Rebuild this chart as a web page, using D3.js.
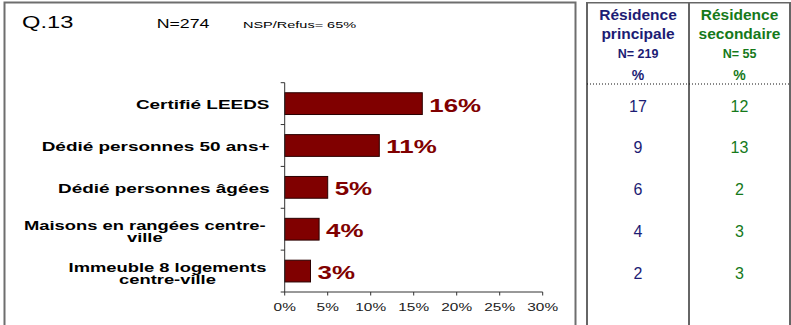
<!DOCTYPE html>
<html>
<head>
<meta charset="utf-8">
<script src="https://cdn.jsdelivr.net/npm/d3@7"></script>
<style>
  html, body { margin: 0; padding: 0; background: #fff; }
  svg { display: block; font-family: Arial, "Liberation Sans", sans-serif; }
</style>
</head>
<body>
<svg id="chart" width="791" height="325"></svg>
<script>
// Question Q.13 — preferred housing type (overall, then by residence type)
const categories = [
  ["Certifié LEEDS"],
  ["Dédié personnes 50 ans+"],
  ["Dédié personnes âgées"],
  ["Maisons en rangées centre-", "ville"],
  ["Immeuble 8 logements", "centre-ville"]
];
const totalValues = [16, 11, 5, 4, 3];          // % of all respondents
const principaleValues = [17, 9, 6, 4, 2];      // % résidence principale
const secondaireValues = [12, 13, 2, 3, 3];     // % résidence secondaire
const xTicks = [0, 5, 10, 15, 20, 25, 30];

const titleText = "Q.13";
const nText = "N=274";
const nspText = "NSP/Refus= 65%";
const colHeaders = [
  { lines: ["Résidence", "principale"], n: "N= 219", color: "#1c1c74" },
  { lines: ["Résidence", "secondaire"], n: "N= 55", color: "#15791a" }
];

const svg = d3.select("#chart");
const SX = 1.48;            // horizontal stretch of the left panel lettering
const barColor = "#800000";

// ---- left panel frame
svg.append("rect")
  .attr("x", 4.5).attr("y", 2.5).attr("width", 571).attr("height", 340)
  .attr("fill", "none").attr("stroke", "#6e6e6e").attr("stroke-width", 2);

function stretchedText(g, x, y, txt, opts) {
  return g.append("text")
    .attr("transform", `translate(${x},${y}) scale(${opts.sx || SX},1)`)
    .attr("text-anchor", opts.anchor || "start")
    .attr("font-size", opts.size)
    .attr("font-weight", opts.weight || "normal")
    .attr("fill", opts.fill || "#000")
    .text(txt);
}

stretchedText(svg, 22, 27.7, titleText, { size: 16 });
stretchedText(svg, 156.7, 27.7, nText, { size: 12 });
stretchedText(svg, 243, 28.3, nspText, { size: 9.8 });

// ---- bar chart
const x = d3.scaleLinear().domain([0, 30]).range([284.7, 542.7]);
const y = d3.scaleBand().domain(d3.range(categories.length)).range([82.7, 292]).paddingInner(0.48).paddingOuter(0.24);
const band = d3.scaleBand().domain(d3.range(categories.length)).range([82.7, 292]);

const plot = svg.append("g");

plot.selectAll("rect.bar").data(totalValues).join("rect")
  .attr("class", "bar")
  .attr("x", x(0))
  .attr("y", (d, i) => y(i))
  .attr("width", d => x(d) - x(0))
  .attr("height", y.bandwidth())
  .attr("fill", barColor)
  .attr("stroke", "#2a0000").attr("stroke-width", 1);

// value labels next to the bars
totalValues.forEach((d, i) => {
  stretchedText(plot, x(d) + 7, band(i) + band.bandwidth() / 2 + 8, d + "%",
    { size: 17.5, weight: "bold", fill: barColor });
});

// category axis (ticks on band boundaries)
const axisColor = "#333";
plot.append("line")
  .attr("x1", x(0)).attr("x2", x(0)).attr("y1", 82.7).attr("y2", 292)
  .attr("stroke", axisColor).attr("stroke-width", 1);
const boundaries = d3.range(categories.length + 1).map(i => 82.7 + i * band.step());
plot.selectAll("line.ytick").data(boundaries).join("line")
  .attr("class", "ytick")
  .attr("x1", x(0) - 4).attr("x2", x(0))
  .attr("y1", d => d).attr("y2", d => d)
  .attr("stroke", axisColor);

categories.forEach((lines, i) => {
  const cy = band(i) + band.bandwidth() / 2;
  if (lines.length === 1) {
    stretchedText(plot, 269.5, cy + 5.6, lines[0], { size: 12.8, weight: "bold", anchor: "end" });
  } else {
    // two-line labels: block right-aligned, lines centred within the block
    const t = stretchedText(plot, 0, 0, lines[0], { size: 12.8, weight: "bold", anchor: "end" });
    const w = t.node().getComputedTextLength() * SX;
    t.remove();
    const cx = 269.5 - w / 2;
    lines.forEach((ln, k) => {
      stretchedText(plot, cx, cy + 0.5 + k * 12, ln, { size: 12.4, weight: "bold", anchor: "middle" });
    });
  }
});

// value axis
const xAxisY = 292;
plot.append("line")
  .attr("x1", x(0)).attr("x2", x(30)).attr("y1", xAxisY).attr("y2", xAxisY)
  .attr("stroke", axisColor);
plot.selectAll("line.xtick").data(xTicks).join("line")
  .attr("class", "xtick")
  .attr("x1", d => x(d)).attr("x2", d => x(d))
  .attr("y1", xAxisY).attr("y2", xAxisY + 3.5)
  .attr("stroke", axisColor);
xTicks.forEach(t => {
  stretchedText(plot, x(t), 311, t + "%", { size: 10.4, anchor: "middle", fill: "#222" });
});

// ---- right table
const tableLeft = 587, tableMid = 689, tableRight = 790;
const lineColor = "#666";
svg.append("line").attr("x1", tableLeft).attr("x2", tableRight + 1).attr("y1", 2.7).attr("y2", 2.7)
  .attr("stroke", lineColor).attr("stroke-width", 1.5);
[tableLeft, tableMid, tableRight].forEach(xx => {
  svg.append("line").attr("x1", xx).attr("x2", xx).attr("y1", 2).attr("y2", 330)
    .attr("stroke", lineColor).attr("stroke-width", 2);
});
svg.append("line").attr("x1", tableLeft).attr("x2", tableRight).attr("y1", 84).attr("y2", 84)
  .attr("stroke", "#111").attr("stroke-width", 1).attr("stroke-dasharray", "1,2");

const colCenters = [(tableLeft + tableMid) / 2, (tableMid + tableRight) / 2];
colHeaders.forEach((h, c) => {
  const g = svg.append("g").attr("fill", h.color).attr("text-anchor", "middle").attr("font-weight", "bold");
  g.append("text").attr("x", colCenters[c]).attr("y", 19.5).attr("font-size", 15.5).text(h.lines[0]);
  g.append("text").attr("x", colCenters[c]).attr("y", 38.5).attr("font-size", 15.5).text(h.lines[1]);
  g.append("text").attr("x", colCenters[c]).attr("y", 57.5).attr("font-size", 12.5).text(h.n);
  g.append("text").attr("x", colCenters[c]).attr("y", 80).attr("font-size", 14).text("%");
});

[principaleValues, secondaireValues].forEach((vals, c) => {
  svg.append("g").selectAll("text").data(vals).join("text")
    .attr("x", colCenters[c])
    .attr("y", (d, i) => band(i) + band.bandwidth() / 2 + 8)
    .attr("text-anchor", "middle")
    .attr("font-size", 16)
    .attr("fill", colHeaders[c].color)
    .text(d => d);
});
</script>
</body>
</html>
